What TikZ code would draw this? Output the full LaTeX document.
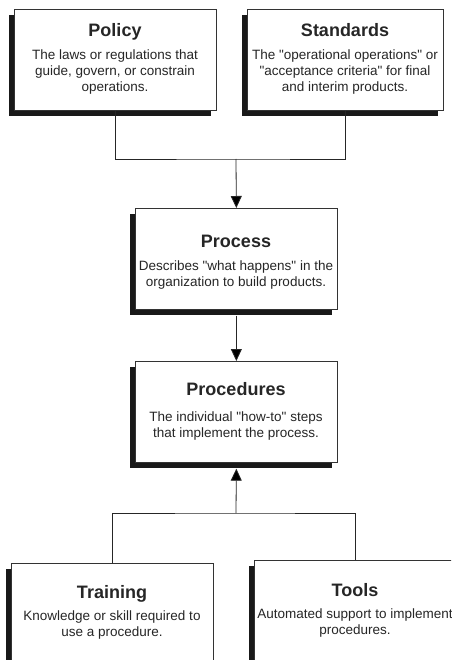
\documentclass[tikz,border=0pt]{standalone}
\usepackage{fontspec}
\setmainfont{Liberation Sans}
\usetikzlibrary{arrows.meta,shadows,calc}
\newcommand{\qq}{\textquotedbl}
\tikzset{
  box/.style={draw=black!80, line width=0.7pt, fill=white, rectangle, inner sep=0pt,
    minimum height=101pt, anchor=north west,
    drop shadow={shadow xshift=-5pt, shadow yshift=-6pt, opacity=1, fill=black!90}},
  ttl/.style={anchor=base, inner sep=0pt, font=\fontsize{18}{20}\selectfont\bfseries, text=black!85},
  bdy/.style={anchor=base, inner sep=0pt, align=center, font=\fontsize{13.5}{16}\selectfont, text=black!85},
  con/.style={draw=black!85, line width=0.8pt},
  arr/.style={con, -{Triangle[length=12pt,width=11pt,fill=black]}}
}
\begin{document}
\begin{tikzpicture}[x=1pt,y=-1pt]
\clip (0,0) rectangle (451,660);
\fill[white] (0,0) rectangle (451,660);
% boxes
\node[box, minimum width=202pt] (policy) at (14,9) {};
\node[box, minimum width=196pt] (standards) at (247,9) {};
\node[box, minimum width=202pt] (process) at (135,208) {};
\node[box, minimum width=202pt] (procedures) at (135,361) {};
\node[box, minimum width=202pt] (training) at (11,563) {};
\node[box, minimum width=202pt] (tools) at (254,560) {};
% texts (base anchor = baseline of last line)
\node[ttl] (policyT) at (115,37) {Policy};
\node[bdy] (policyB) at (115,92) {The laws or regulations that\\guide, govern, or constrain\\operations.};
\node[ttl] (standardsT) at (345,37) {Standards};
\node[bdy] (standardsB) at (345,92) {The \qq operational operations\qq{} or\\\qq acceptance criteria\qq{} for final\\and interim products.};
\node[ttl] (processT) at (236,247) {Process};
\node[bdy] (processB) at (236,286) {Describes \qq what happens\qq{} in the\\organization to build products.};
\node[ttl] (proceduresT) at (236,395) {Procedures};
\node[bdy] (proceduresB) at (236,437) {The individual \qq how-to\qq{} steps\\that implement the process.};
\node[ttl] (trainingT) at (112,598) {Training};
\node[bdy] (trainingB) at (112,636) {Knowledge or skill required to\\use a procedure.};
\node[ttl] (toolsT) at (355,596) {Tools};
\node[bdy] (toolsB) at (355,634) {Automated support to implement\\procedures.};
% connectors
\coordinate (j1) at (236,159);
\coordinate (j2) at (236,513);
\draw[con] (policy.south) |- (j1) -| (standards.south);
\draw[arr] (j1) -- (process.north);
\draw[arr] ($(process.south)+(0,6)$) -- (procedures.north);
\draw[con] (training.north) |- (j2) -| (tools.north);
\draw[arr] (j2) -- ($(procedures.south)+(0,6)$);
\end{tikzpicture}
\end{document}
